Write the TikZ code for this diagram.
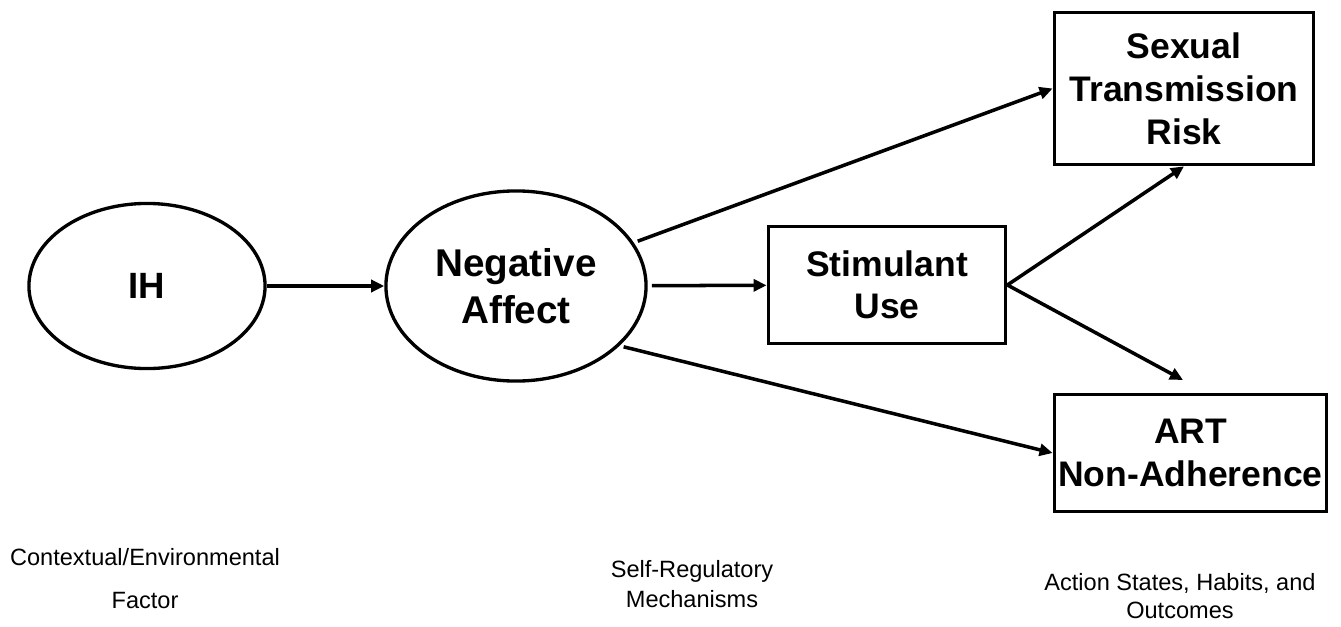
\documentclass[tikz,border=0pt]{standalone}
\usepackage{fontspec}
\setmainfont{Liberation Sans}
\usetikzlibrary{shapes.geometric,arrows.meta}

\begin{document}
\begin{tikzpicture}[
    x=0.01cm, y=-0.01cm,
    every node/.style={text=black, inner sep=0pt, align=center},
    latent/.style={ellipse, draw, line width=0.95pt,
                   font=\fontsize{11}{13.3}\selectfont\bfseries},
    measured/.style={rectangle, draw, line width=1.05pt,
                     font=\fontsize{10.1}{12.2}\selectfont\bfseries},
    tier/.style={font=\fontsize{6.7}{8.3}\selectfont},
    path/.style={-{Triangle[length=1.3mm, width=1.2mm]}, line width=1pt},
  ]
  \useasboundingbox (0,0) rectangle (1341,627);

  % the two ellipses on the left
  \node[latent, minimum width=2.36cm, minimum height=1.65cm,
        font=\fontsize{10.4}{12}\selectfont\bfseries] (ih) at (147,286) {IH};
  \node[latent, minimum width=2.60cm, minimum height=1.90cm] (na) at (516,286)
        {Negative\\Affect};

  % the boxes
  \node[measured, minimum width=2.37cm, minimum height=1.17cm,
        font=\fontsize{10.1}{11.9}\selectfont\bfseries] (stim) at (887,285)
        {Stimulant\\Use};
  \node[measured, minimum width=2.59cm, minimum height=1.52cm] (str) at (1184,88.5)
        {Sexual\\Transmission\\Risk};
  \node[measured, minimum width=2.72cm, minimum height=1.17cm] (art) at (1190.5,453)
        {ART\\Non-Adherence};
  \coordinate (artin) at (1183,380);

  % paths
  \draw[path] (ih) -- (na);
  \draw[path, shorten <=1.2pt] (na) -- (stim);
  \draw[path, shorten <=1.2pt] (na) -- (str.west);
  \draw[path, shorten <=1.2pt] (na.-30) -- (art.west);
  \draw[path] (stim.east) -- (str.south);
  \draw[path] (stim.east) -- (artin);

  % tier labels along the bottom
  \node[tier, font=\fontsize{6.7}{12.2}\selectfont] (ctx) at (145,579)
        {Contextual/Environmental\\Factor};
  \node[tier, font=\fontsize{6.7}{8.5}\selectfont] (self) at (692,584)
        {Self-Regulatory\\Mechanisms};
  \node[tier, font=\fontsize{6.7}{8}\selectfont] (act) at (1180,596)
        {Action States, Habits, and\\Outcomes};
\end{tikzpicture}
\end{document}
